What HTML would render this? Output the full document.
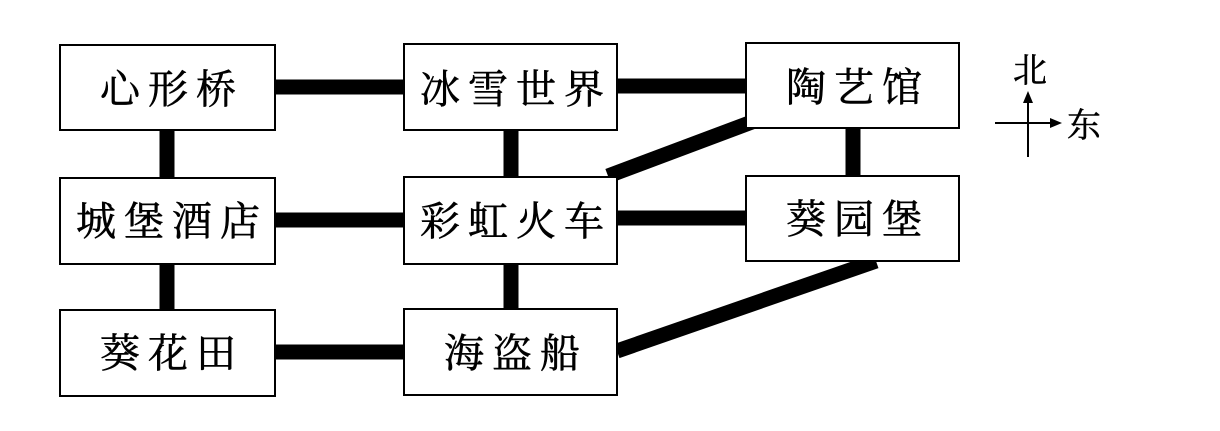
<!DOCTYPE html>
<html><head><meta charset="utf-8"><style>
body{margin:0;background:#fff}
</style></head><body>
<svg width="1220" height="431" xmlns="http://www.w3.org/2000/svg" style="display:block">
<g stroke="#000" stroke-width="15" fill="none">
<line x1="275" y1="87" x2="404" y2="87"/>
<line x1="617" y1="86" x2="746" y2="86"/>
<line x1="275" y1="220" x2="404" y2="220"/>
<line x1="617" y1="218" x2="746" y2="218"/>
<line x1="275" y1="352" x2="404" y2="352"/>
<line x1="167" y1="130" x2="167" y2="178"/>
<line x1="167" y1="264" x2="167" y2="310"/>
<line x1="511" y1="130" x2="511" y2="178"/>
<line x1="511" y1="264" x2="511" y2="310"/>
<line x1="853" y1="127" x2="853" y2="176"/>
<line x1="752" y1="122" x2="608" y2="176"/>
<line x1="876" y1="261" x2="617" y2="351"/>
</g>
<g stroke="#000" stroke-width="2" fill="#fff">
<rect x="60" y="45" width="215" height="85"/>
<rect x="404" y="44" width="213" height="86"/>
<rect x="746" y="43" width="213" height="85"/>
<rect x="60" y="178" width="215" height="86"/>
<rect x="404" y="177" width="213" height="87"/>
<rect x="746" y="176" width="213" height="85"/>
<rect x="60" y="310" width="215" height="86"/>
<rect x="404" y="309" width="213" height="86"/>
</g>
<g font-family="'Liberation Serif','Noto Serif CJK SC','Noto Sans CJK SC',serif" font-size="40" text-anchor="middle" fill="#000" letter-spacing="8" stroke="#000" stroke-width="0.6">
<text x="172" y="103">心形桥</text>
<text x="516" y="103">冰雪世界</text>
<text x="858" y="101">陶艺馆</text>
<text x="172" y="235">城堡酒店</text>
<text x="516" y="235">彩虹火车</text>
<text x="858" y="233">葵园堡</text>
<text x="172" y="367">葵花田</text>
<text x="516" y="367">海盗船</text>
</g>
<g stroke="#000" stroke-width="2">
<line x1="1028" y1="100" x2="1028" y2="157"/>
<line x1="995" y1="123" x2="1052" y2="123"/>
</g>
<polygon points="1028,91 1023,103 1033,103" fill="#000"/>
<polygon points="1062,123 1050,118 1050,128" fill="#000"/>
<g font-family="'Liberation Serif','Noto Serif CJK SC','Noto Sans CJK SC',serif" font-size="34" fill="#000" text-anchor="middle" stroke="#000" stroke-width="0.5">
<text x="1030" y="82">北</text>
<text x="1084" y="137">东</text>
</g>
</svg>
</body></html>
